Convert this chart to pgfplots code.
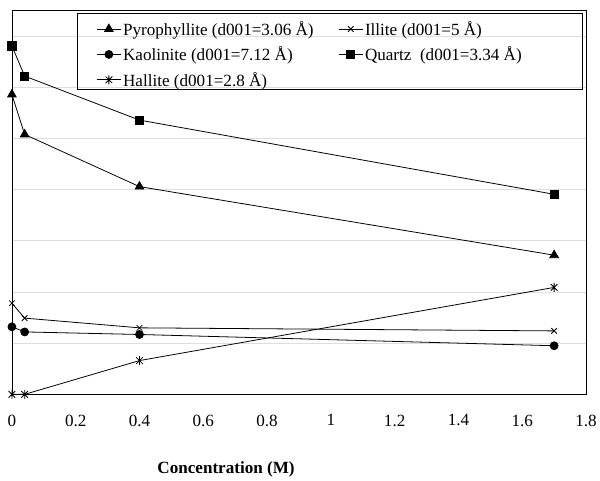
\documentclass[border=0pt]{standalone}
\usepackage{pgfplots}
\pgfplotsset{compat=1.18}
\usepackage{fontspec}
\setmainfont{Liberation Serif}
\pgfdeclareplotmark{xbar}{%
  \pgfpathmoveto{\pgfqpoint{-.75\pgfplotmarksize}{-.75\pgfplotmarksize}}%
  \pgfpathlineto{\pgfqpoint{.75\pgfplotmarksize}{.75\pgfplotmarksize}}%
  \pgfpathmoveto{\pgfqpoint{-.75\pgfplotmarksize}{.75\pgfplotmarksize}}%
  \pgfpathlineto{\pgfqpoint{.75\pgfplotmarksize}{-.75\pgfplotmarksize}}%
  \pgfpathmoveto{\pgfqpoint{0pt}{-\pgfplotmarksize}}%
  \pgfpathlineto{\pgfqpoint{0pt}{\pgfplotmarksize}}%
  \pgfusepathqstroke}
\begin{document}
\begin{tikzpicture}
\begin{axis}[
  name=ax,
  scale only axis,
  width=579bp, height=387bp,
  xmin=0, xmax=1.8, ymin=0, ymax=7.5,
  xtick={0,0.2,0.4,0.6,0.8,1,1.2,1.4,1.6,1.8},
  xticklabels={0,0.2,0.4,0.6,0.8,1,1.2,1.4,1.6,1.8},
  ytick={1,2,3,4,5,6,7}, yticklabels={},
  major tick length=0,
  ymajorgrids, grid style={color=black!13, line width=0.8bp},
  axis line style={black, line width=0.8bp},
  tick label style={font=\fontsize{17.3}{19}\selectfont},
  xticklabel style={yshift=-17bp},
  /pgf/number format/assume math mode=true,
  clip=false,
  every axis plot/.append style={black, line width=0.8bp, mark options={solid, fill=black}},
  legend columns=2,
  legend cell align=left,
  legend style={draw=none, fill=none, at={(rel axis cs:0.142,0.983)}, anchor=north west,
    font=\fontsize{17.3}{19}\selectfont, row sep=6bp,
    /tikz/every even column/.append style={column sep=23bp}},
  legend image code/.code={\draw[mark repeat=2,mark phase=2,#1] plot coordinates {(0bp,0bp) (12bp,0bp) (24bp,0bp)};},
]
\addplot[mark=triangle*, mark size=5bp] coordinates {(0,5.86) (0.04,5.08) (0.4,4.06) (1.7,2.72)};
\addlegendentry{Pyrophyllite (d001=3.06 Å)}
\addplot[mark=x, mark size=4bp] coordinates {(0,1.78) (0.04,1.49) (0.4,1.30) (1.7,1.24)};
\addlegendentry{Illite (d001=5 Å)}
\addplot[mark=*, mark size=4bp] coordinates {(0,1.32) (0.04,1.22) (0.4,1.17) (1.7,0.95)};
\addlegendentry{Kaolinite (d001=7.12 Å)}
\addplot[mark=square*, mark size=4.2bp] coordinates {(0,6.81) (0.04,6.22) (0.4,5.36) (1.7,3.91)};
\addlegendentry{Quartz\ \ (d001=3.34 Å)}
\addplot[mark=xbar, mark size=4.5bp] coordinates {(0,0) (0.04,0) (0.4,0.66) (1.7,2.09)};
\addlegendentry{Hallite (d001=2.8 Å)}
\draw[black, line width=0.8bp] (rel axis cs:0.114,0.994) rectangle (rel axis cs:0.993,0.795);
\node[font=\fontsize{17.3}{19}\selectfont\bfseries] at (rel axis cs:0.373,0) [yshift=-76bp] {Concentration (M)};
\end{axis}
\useasboundingbox ([xshift=-12bp,yshift=-81.5bp]ax.south west) rectangle ([xshift=9bp,yshift=10.7bp]ax.north east);
\end{tikzpicture}
\end{document}
